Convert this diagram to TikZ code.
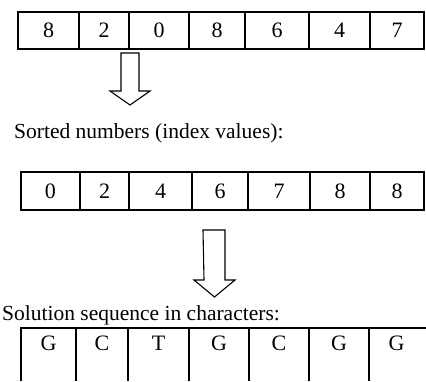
\documentclass[tikz,border=0pt]{standalone}
\usepackage{fontspec}
\setmainfont{Liberation Serif}
\begin{document}
\begin{tikzpicture}[x=1pt, y=-1pt, line join=miter,
    every node/.style={font=\fontsize{22}{26}\selectfont},
    cell/.style={draw, line width=1.4pt, inner sep=0pt},
    bigarrow/.style={draw, line width=1.1pt},
    label/.style={anchor=base west, inner sep=0pt, font=\fontsize{21.5}{25}\selectfont}]
  \useasboundingbox (0,0) rectangle (426,381);
  % unsorted row
  \foreach \xa/\xb/\v [count=\i] in {18/79/8,79/129/2,129/189/0,189/245/8,245/309/6,309/370/4,370/424/7}
    \node[cell, minimum width={(\xb-\xa)*1pt}, minimum height=37pt] (top\i) at ({(\xa+\xb)/2},30.5) {\v};
  \coordinate (a1) at (121,53);
  \draw[bigarrow] (a1) -- ++(18,0) -- ++(0,38) -- ++(11,0) -- ++(-20,14)
    -- ++(-20,-14) -- ++(11,0) -- cycle;
  \node[label] (lab1) at (14,138) {Sorted numbers (index values):};
  % sorted row
  \foreach \xa/\xb/\v [count=\i] in {21/80/0,80/129/2,129/192/4,192/248/6,248/310/7,310/370/8,370/424/8}
    \node[cell, minimum width={(\xb-\xa)*1pt}, minimum height=38pt] (mid\i) at ({(\xa+\xb)/2},191) {\v};
  \coordinate (a2) at (203,230);
  \draw[bigarrow] (a2) -- ++(22,0) -- ++(0,50) -- ++(10,0) -- ++(-20.5,17)
    -- ++(-20.5,-17) -- ++(10,0) -- cycle;
  \node[label] (lab2) at (2,320) {Solution sequence in characters:};
  % characters (cut off at the bottom)
  \draw[line width=1.4pt] (21,381) -- (21,328) -- (426,328);
  \foreach \x in {76,128,189,249,309,369}
    \draw[line width=1.4pt] (\x,328) -- (\x,381);
  \foreach \xa/\xb/\c [count=\i] in {21/76/G,76/128/C,128/189/T,189/249/G,249/309/C,309/369/G,369/424/G}
    \node[anchor=base, inner sep=0pt] (chr\i) at ({(\xa+\xb)/2},350) {\c};
\end{tikzpicture}
\end{document}
